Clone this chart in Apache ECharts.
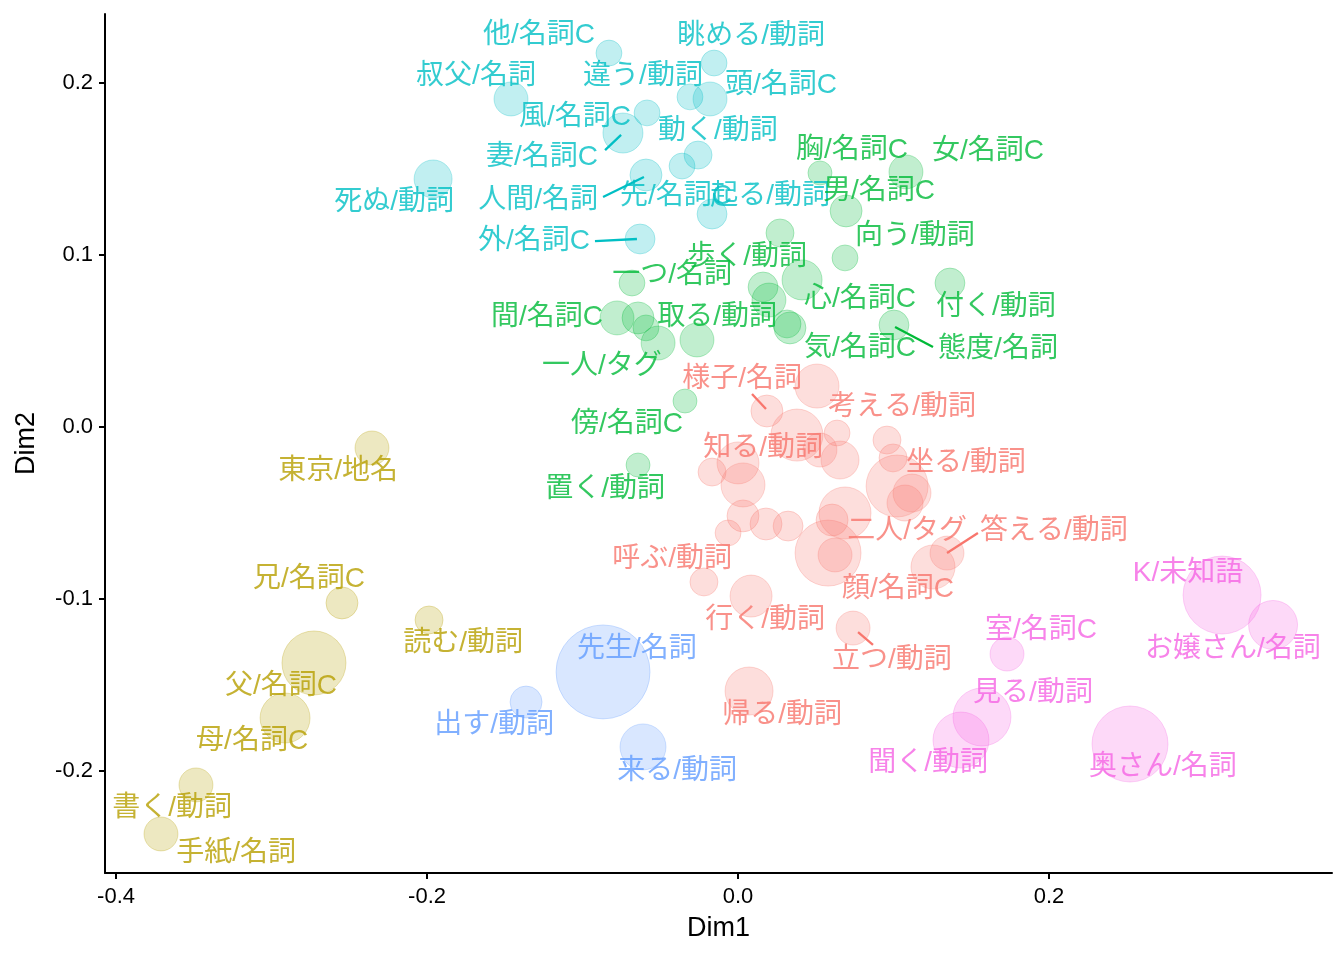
<!DOCTYPE html>
<html>
<head>
<meta charset="utf-8">
<script src="https://cdn.jsdelivr.net/npm/echarts@6/dist/echarts.min.js"></script>
<style>
  html, body { margin: 0; padding: 0; background: #fff; }
  #chart { width: 1344px; height: 960px; }
</style>
</head>
<body>
<div id="chart"></div>
<script>
// [Dim1, Dim2, weight, word] per cluster
const redPoints = [
  [0.0508, 0.0238, 121, '考える/動詞'],
  [0.0186, 0.0093, 64, '様子/名詞'],
  [0.0379, -0.0047, 169, '知る/動詞'],
  [0.0637, -0.0035, 42, ''],
  [0.0527, -0.0134, 72, ''],
  [0.0656, -0.0192, 90, ''],
  [0.0958, -0.0076, 49, ''],
  [0.0997, -0.0180, 49, ''],
  [0.1023, -0.0343, 240, '坐る/動詞'],
  [0.1119, -0.0384, 90, ''],
  [0.1074, -0.0442, 81, ''],
  [-0.0167, -0.0262, 49, ''],
  [0.0000, -0.0209, 110, ''],
  [0.0032, -0.0337, 121, ''],
  [0.0032, -0.0517, 64, ''],
  [-0.0064, -0.0616, 42, ''],
  [0.0180, -0.0564, 64, ''],
  [0.0322, -0.0576, 56, ''],
  [0.0688, -0.0500, 169, '二人/タグ'],
  [0.0605, -0.0541, 64, ''],
  [0.0579, -0.0733, 272, ''],
  [0.0624, -0.0744, 72, ''],
  [0.1254, -0.0814, 121, '顔/名詞C'],
  [0.1344, -0.0733, 72, '答える/動詞'],
  [-0.0219, -0.0901, 49, '呼ぶ/動詞'],
  [0.0084, -0.0983, 110, '行く/動詞'],
  [0.0740, -0.1169, 72, '立つ/動詞'],
  [0.0071, -0.1535, 144, '帰る/動詞']
];
const olivePoints = [
  [-0.2354, -0.0122, 72, '東京/地名'],
  [-0.2547, -0.1023, 64, '兄/名詞C'],
  [-0.1987, -0.1122, 49, '読む/動詞'],
  [-0.2727, -0.1372, 256, '父/名詞C'],
  [-0.2913, -0.1692, 156, '母/名詞C'],
  [-0.3486, -0.2081, 72, '書く/動詞'],
  [-0.3711, -0.2366, 72, '手紙/名詞']
];
const greenPoints = [
  [0.0527, 0.1477, 36, '胸/名詞C'],
  [0.1080, 0.1483, 72, '女/名詞C'],
  [0.0695, 0.1256, 64, '男/名詞C'],
  [0.0270, 0.1128, 49, '歩く/動詞'],
  [0.0688, 0.0983, 42, '向う/動詞'],
  [0.0412, 0.0855, 100, '心/名詞C'],
  [0.0161, 0.0814, 56, ''],
  [0.0199, 0.0738, 72, ''],
  [-0.0682, 0.0837, 42, '一つ/名詞'],
  [-0.0778, 0.0634, 72, '間/名詞C'],
  [-0.0643, 0.0634, 64, ''],
  [-0.0592, 0.0576, 42, ''],
  [-0.0514, 0.0488, 72, '一人/タグ'],
  [-0.0264, 0.0506, 72, '取る/動詞'],
  [0.0315, 0.0599, 49, ''],
  [0.0334, 0.0576, 64, '気/名詞C'],
  [0.1363, 0.0837, 56, '付く/動詞'],
  [0.1003, 0.0593, 56, '態度/名詞'],
  [-0.0341, 0.0151, 36, '傍/名詞C'],
  [-0.0643, -0.0221, 36, '置く/動詞']
];
const cyanPoints = [
  [-0.0830, 0.2174, 42, '他/名詞C'],
  [-0.0154, 0.2116, 42, '眺める/動詞'],
  [-0.1460, 0.1907, 72, '叔父/名詞'],
  [-0.0309, 0.1919, 42, '違う/動詞'],
  [-0.0180, 0.1907, 72, '頭/名詞C'],
  [-0.0585, 0.1826, 42, '風/名詞C'],
  [-0.0740, 0.1709, 100, '妻/名詞C'],
  [-0.0257, 0.1581, 49, '動く/動詞'],
  [-0.0360, 0.1517, 42, '先/名詞C'],
  [-0.1961, 0.1442, 90, '死ぬ/動詞'],
  [-0.0592, 0.1465, 64, '人間/名詞'],
  [-0.0167, 0.1238, 56, '起る/動詞'],
  [-0.0630, 0.1093, 56, '外/名詞C']
];
const bluePoints = [
  [-0.0868, -0.1424, 552, '先生/名詞'],
  [-0.1363, -0.1599, 64, '出す/動詞'],
  [-0.0611, -0.1860, 132, '来る/動詞']
];
const pinkPoints = [
  [0.3113, -0.0977, 380, 'K/未知語'],
  [0.3441, -0.1151, 150, 'お嬢さん/名詞'],
  [0.1730, -0.1320, 72, '室/名詞C'],
  [0.1569, -0.1686, 210, '見る/動詞'],
  [0.1434, -0.1820, 196, '聞く/動詞'],
  [0.2521, -0.1843, 361, '奥さん/名詞']
];

// repelled label positions [word, Dim1, Dim2]
const labelAt = [
  ['他/名詞C', -0.1280, 0.2279], ['眺める/動詞', 0.0084, 0.2273], ['叔父/名詞', -0.1685, 0.2041],
  ['違う/動詞', -0.0611, 0.2041], ['頭/名詞C', 0.0277, 0.1988], ['風/名詞C', -0.1048, 0.1802],
  ['動く/動詞', -0.0129, 0.1721], ['妻/名詞C', -0.1260, 0.1570], ['死ぬ/動詞', -0.2212, 0.1308],
  ['人間/名詞', -0.1286, 0.1320], ['先/名詞C', -0.0399, 0.1343], ['起る/動詞', 0.0206, 0.1343],
  ['外/名詞C', -0.1312, 0.1081],
  ['胸/名詞C', 0.0733, 0.1610], ['女/名詞C', 0.1608, 0.1605], ['男/名詞C', 0.0907, 0.1372],
  ['向う/動詞', 0.1138, 0.1110], ['歩く/動詞', 0.0058, 0.0988], ['一つ/名詞', -0.0424, 0.0884],
  ['心/名詞C', 0.0785, 0.0744], ['付く/動詞', 0.1659, 0.0698], ['間/名詞C', -0.1228, 0.0640],
  ['取る/動詞', -0.0135, 0.0640], ['気/名詞C', 0.0785, 0.0459], ['態度/名詞', 0.1672, 0.0453],
  ['一人/タグ', -0.0875, 0.0355], ['傍/名詞C', -0.0714, 0.0017], ['置く/動詞', -0.0855, -0.0360],
  ['様子/名詞', 0.0026, 0.0279], ['考える/動詞', 0.1055, 0.0116], ['知る/動詞', 0.0161, -0.0122],
  ['坐る/動詞', 0.1466, -0.0209], ['二人/タグ', 0.1087, -0.0605], ['答える/動詞', 0.2032, -0.0605],
  ['呼ぶ/動詞', -0.0424, -0.0767], ['顔/名詞C', 0.1029, -0.0942], ['行く/動詞', 0.0174, -0.1122],
  ['立つ/動詞', 0.0990, -0.1355], ['帰る/動詞', 0.0283, -0.1674],
  ['東京/地名', -0.2572, -0.0256], ['兄/名詞C', -0.2759, -0.0884], ['読む/動詞', -0.1768, -0.1256],
  ['父/名詞C', -0.2939, -0.1506], ['母/名詞C', -0.3125, -0.1826], ['書く/動詞', -0.3640, -0.2215],
  ['手紙/名詞', -0.3228, -0.2477],
  ['先生/名詞', -0.0650, -0.1291], ['出す/動詞', -0.1569, -0.1733], ['来る/動詞', -0.0392, -0.2000],
  ['K/未知語', 0.2894, -0.0849], ['お嬢さん/名詞', 0.3183, -0.1291], ['室/名詞C', 0.1949, -0.1180],
  ['見る/動詞', 0.1897, -0.1547], ['聞く/動詞', 0.1222, -0.1953], ['奥さん/名詞', 0.2733, -0.1977]
];

// label-to-point segments [word, x1, y1, x2, y2]
const segments = [
  ['妻/名詞C', -0.0855, 0.1610, -0.0752, 0.1698],
  ['人間/名詞', -0.0868, 0.1337, -0.0605, 0.1453],
  ['外/名詞C', -0.0920, 0.1081, -0.0650, 0.1093],
  ['態度/名詞', 0.1254, 0.0465, 0.1010, 0.0581],
  ['様子/名詞', 0.0090, 0.0192, 0.0180, 0.0105],
  ['答える/動詞', 0.1543, -0.0616, 0.1344, -0.0733],
  ['立つ/動詞', 0.0868, -0.1267, 0.0772, -0.1192]
];

const xTicks = [-0.4, -0.2, 0.0, 0.2];
const yTicks = [-0.2, -0.1, 0.0, 0.1, 0.2];

const clusterColors = ['#F8766D', '#B79F00', '#00BA38', '#00BFC4', '#619CFF', '#F564E3'];
const clusters = [redPoints, olivePoints, greenPoints, cyanPoints, bluePoints, pinkPoints];

const alpha = (hex, a) => {
  const n = parseInt(hex.slice(1), 16);
  return `rgba(${(n >> 16) & 255},${(n >> 8) & 255},${n & 255},${a})`;
};

const colorOf = (word) => {
  const idx = clusters.findIndex((pts) => pts.some((p) => p[3] === word));
  return clusterColors[idx];
};

const labelFont = "'Liberation Sans', 'Noto Sans CJK JP', sans-serif";

const chart = echarts.init(document.getElementById('chart'));

const pointSeries = clusters.map((pts, idx) => ({
  type: 'scatter',
  data: pts.map((p) => [p[0], p[1], p[2]]),
  symbolSize: (val) => Math.sqrt(val[2]) * 4,
  itemStyle: {
    color: alpha(clusterColors[idx], 0.3),
    borderColor: alpha(clusterColors[idx], 0.35),
    borderWidth: 1
  },
  silent: true,
  z: 2
}));

chart.setOption({
  animation: false,
  grid: { left: 105, right: 12, top: 14, bottom: 87, outerBoundsMode: 'none' },
  xAxis: {
    type: 'value',
    min: -0.4071,
    max: 0.382,
    name: 'Dim1',
    nameLocation: 'middle',
    nameGap: 42,
    nameTextStyle: { color: '#000', fontSize: 27, fontFamily: 'Liberation Sans' },
    axisLine: { onZero: false, lineStyle: { color: '#000', width: 2 } },
    axisTick: { length: 6, lineStyle: { color: '#000', width: 2 }, customValues: xTicks },
    axisLabel: {
      color: '#000', fontSize: 22, fontFamily: 'Liberation Sans', margin: 13,
      customValues: xTicks, formatter: (v) => v.toFixed(1)
    },
    splitLine: { show: false }
  },
  yAxis: {
    type: 'value',
    min: -0.2593,
    max: 0.2401,
    name: 'Dim2',
    nameLocation: 'middle',
    nameGap: 65,
    nameTextStyle: { color: '#000', fontSize: 27, fontFamily: 'Liberation Sans' },
    axisLine: { onZero: false, lineStyle: { color: '#000', width: 2 } },
    axisTick: { length: 6, lineStyle: { color: '#000', width: 2 }, customValues: yTicks },
    axisLabel: {
      color: '#000', fontSize: 22, fontFamily: 'Liberation Sans', margin: 12,
      customValues: yTicks, formatter: (v) => v.toFixed(1)
    },
    splitLine: { show: false }
  },
  series: [
    ...pointSeries,
    {
      type: 'lines',
      coordinateSystem: 'cartesian2d',
      silent: true,
      z: 3,
      data: segments.map((s) => ({
        coords: [[s[1], s[2]], [s[3], s[4]]],
        lineStyle: { color: colorOf(s[0]), width: 2.3, opacity: 1 }
      }))
    },
    {
      type: 'scatter',
      silent: true,
      z: 4,
      symbolSize: 1,
      itemStyle: { color: 'rgba(0,0,0,0)' },
      data: labelAt.map((l) => ({
        name: l[0],
        value: [l[1], l[2]],
        label: { color: colorOf(l[0]) }
      })),
      label: {
        show: true,
        position: 'inside',
        offset: [0, 2],
        formatter: (p) => p.name,
        fontSize: 28,
        fontFamily: labelFont
      },
      labelLayout: { hideOverlap: false }
    }
  ]
});
</script>
</body>
</html>
